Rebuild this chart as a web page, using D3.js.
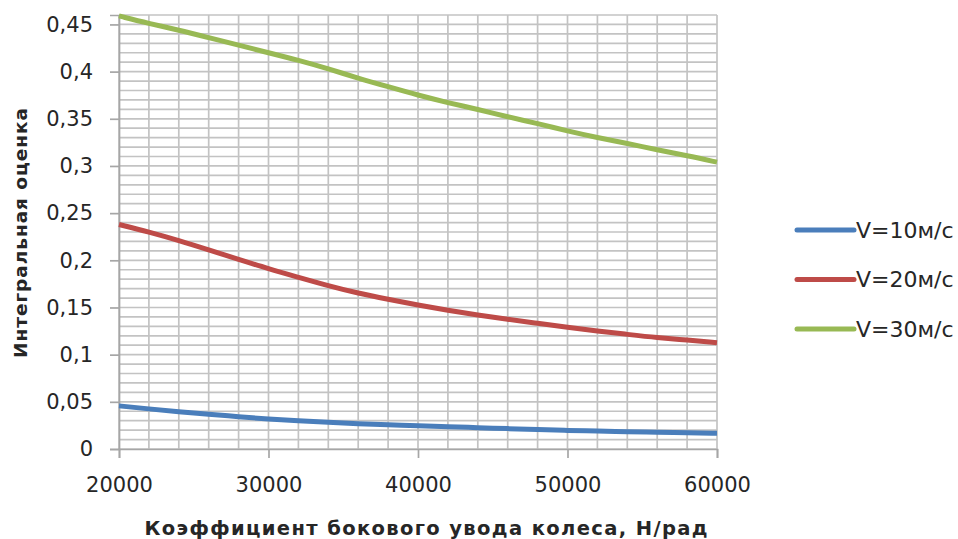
<!DOCTYPE html>
<html>
<head>
<meta charset="utf-8">
<script src="https://cdn.jsdelivr.net/npm/d3@7"></script>
<style>
  html, body { margin: 0; padding: 0; background: #fff; }
  svg { display: block; }
  text { font-family: "DejaVu Sans", Verdana, sans-serif; fill: #262626; }
</style>
</head>
<body>
<svg id="chart" width="958" height="539"></svg>
<script>
// ---- data ----
const kValues = [20000, 22000, 24000, 26000, 28000, 30000, 32000, 34000, 36000, 38000, 40000,
                 42000, 44000, 46000, 48000, 50000, 52000, 54000, 56000, 58000, 60000];
const v10 = [0.0457, 0.0425, 0.0395, 0.0370, 0.0342, 0.0316, 0.0298, 0.0282, 0.0268, 0.0257, 0.0248,
             0.0236, 0.0226, 0.0216, 0.0206, 0.0197, 0.0190, 0.0183, 0.0177, 0.0172, 0.0167];
const v20 = [0.238, 0.230, 0.221, 0.211, 0.201, 0.191, 0.182, 0.173, 0.165, 0.1587, 0.1526,
             0.147, 0.142, 0.1374, 0.1332, 0.129, 0.125, 0.1215, 0.118, 0.1155, 0.1127];
const v30 = [0.459, 0.451, 0.444, 0.436, 0.428, 0.420, 0.412, 0.403, 0.393, 0.384, 0.375,
             0.367, 0.360, 0.352, 0.345, 0.337, 0.330, 0.324, 0.317, 0.311, 0.304];
const seriesNames = ["V=10м/с", "V=20м/с", "V=30м/с"];
const seriesColors = ["#4a7ebb", "#be4b48", "#98b954"];
const xTicks = [20000, 30000, 40000, 50000, 60000];
const yTicks = [0, 0.05, 0.1, 0.15, 0.2, 0.25, 0.3, 0.35, 0.4, 0.45];
const xTitle = "Коэффициент бокового увода колеса, Н/рад";
const yTitle = "Интегральная оценка";

// ---- layout ----
const svg = d3.select("#chart");
const pLeft = 119, pRight = 717, pTop = 15, pBottom = 449;
const x = d3.scaleLinear().domain([20000, 60000]).range([pLeft, pRight]);
const y = d3.scaleLinear().domain([0, 0.46]).range([pBottom, pTop]);

// grid
const grid = svg.append("g");
const hVals = d3.range(0, 47).map(i => i / 100);
grid.selectAll("line.h").data(hVals).enter().append("line")
  .attr("x1", pLeft).attr("x2", pRight)
  .attr("y1", d => y(d)).attr("y2", d => y(d))
  .attr("stroke", "#c3c3c3").attr("stroke-width", 1.7);
const vVals = d3.range(20000, 60001, 2000);
grid.selectAll("line.v").data(vVals).enter().append("line")
  .attr("y1", pTop).attr("y2", pBottom)
  .attr("x1", d => x(d)).attr("x2", d => x(d))
  .attr("stroke", "#c3c3c3").attr("stroke-width", 1.7);

// axes
const fmt = d => String(d).replace(".", ",");
const yAxis = svg.append("g").attr("transform", `translate(${pLeft},0)`)
  .call(d3.axisLeft(y).tickValues(yTicks).tickFormat(fmt).tickSize(9).tickPadding(17));
const xAxis = svg.append("g").attr("transform", `translate(0,${pBottom})`)
  .call(d3.axisBottom(x).tickValues(xTicks).tickFormat(d => d).tickSize(9).tickPadding(19));
[yAxis, xAxis].forEach(a => {
  a.select(".domain").attr("stroke", "#a6a6a6").attr("stroke-width", 1.7);
  a.selectAll(".tick line").attr("stroke", "#a6a6a6").attr("stroke-width", 1.7);
  a.selectAll(".tick text").style("font-family", '"DejaVu Sans", Verdana, sans-serif')
    .style("font-size", "21px").attr("fill", "#262626");
});

// lines
const allSeries = [v10, v20, v30];
const line = d3.line().x((d, i) => x(kValues[i])).y(d => y(d)).curve(d3.curveBasis);
svg.append("g").selectAll("path").data(allSeries).enter().append("path")
  .attr("d", d => line(d))
  .attr("fill", "none")
  .attr("stroke", (d, i) => seriesColors[i])
  .attr("stroke-width", 5)
  .attr("stroke-linecap", "butt");

// legend
const legY = [230, 279.5, 329];
const leg = svg.append("g");
seriesNames.forEach((n, i) => {
  leg.append("line").attr("x1", 797).attr("x2", 854)
    .attr("y1", legY[i]).attr("y2", legY[i])
    .attr("stroke", seriesColors[i]).attr("stroke-width", 5).attr("stroke-linecap", "round");
  leg.append("text").attr("x", 856).attr("y", legY[i]).attr("dy", "0.36em")
    .style("font-size", "22px").text(n);
});

// titles
svg.append("text").attr("x", 426).attr("y", 535).attr("text-anchor", "middle")
  .style("font-size", "19.5px").style("font-weight", "bold")
  .attr("textLength", 563).attr("lengthAdjust", "spacing")
  .text(xTitle);
svg.append("text").attr("transform", "translate(27,233) rotate(-90)").attr("text-anchor", "middle")
  .style("font-size", "18.5px").style("font-weight", "bold")
  .attr("textLength", 250).attr("lengthAdjust", "spacing")
  .text(yTitle);
</script>
</body>
</html>
